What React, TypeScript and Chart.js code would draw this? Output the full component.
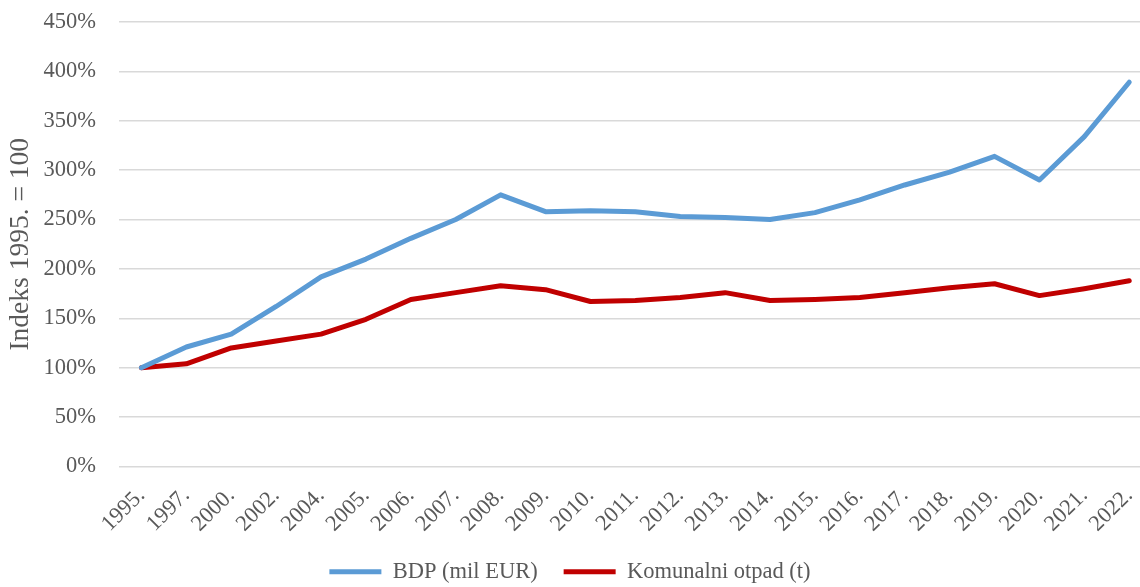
import React, { useEffect, useRef } from "react";
import { Chart, registerables } from "chart.js";

Chart.register(...registerables);

const years = ["1995.", "1997.", "2000.", "2002.", "2004.", "2005.", "2006.", "2007.", "2008.", "2009.", "2010.", "2011.", "2012.", "2013.", "2014.", "2015.", "2016.", "2017.", "2018.", "2019.", "2020.", "2021.", "2022."];
const bdp = [100, 121, 134, 162, 192, 210, 231, 250, 275, 258, 259, 258, 253, 252, 250, 257, 270, 285, 298, 314, 290, 334, 389];
const otpad = [100, 104, 120, 127, 134, 149, 169, 176, 183, 179, 167, 168, 171, 176, 168, 169, 171, 176, 181, 185, 173, 180, 188];
const seriesNames = ["BDP (mil EUR)", "Komunalni otpad (t)"];
const yTitle = "Indeks 1995. = 100";

const FONT = "'Liberation Serif', 'Times New Roman', serif";
const GREY = "#595959";
const FS = 22.5;

export default function App() {
  const ref = useRef<HTMLCanvasElement | null>(null);
  useEffect(() => {
    if (!ref.current) return;
    const toXY = (arr: number[]) => arr.map((v, i) => ({ x: i, y: v }));
    const chart = new Chart(ref.current, {
      type: "line",
      data: {
        datasets: [
          {
            label: seriesNames[0],
            data: toXY(bdp),
            borderColor: "#5B9BD5",
            backgroundColor: "#5B9BD5",
            borderWidth: 5,
            pointRadius: 0,
            tension: 0,
            borderCapStyle: "round",
            borderJoinStyle: "round",
            pointStyle: "line",
          },
          {
            label: seriesNames[1],
            data: toXY(otpad),
            borderColor: "#C00000",
            backgroundColor: "#C00000",
            borderWidth: 5,
            pointRadius: 0,
            tension: 0,
            borderCapStyle: "round",
            borderJoinStyle: "round",
            pointStyle: "line",
          },
        ],
      },
      options: {
        animation: false,
        responsive: true,
        maintainAspectRatio: false,
        layout: { padding: { top: 22, left: 0, right: 0, bottom: -6 } },
        plugins: {
          tooltip: { enabled: false },
          legend: {
            position: "bottom",
            labels: {
              usePointStyle: true,
              pointStyleWidth: 52,
              padding: 26,
              color: GREY,
              font: { family: FONT, size: FS },
            },
          },
        },
        scales: {
          x: {
            type: "linear",
            min: -0.5,
            max: 22.24,
            grid: { display: false, drawTicks: false },
            border: { display: false },
            afterBuildTicks: (axis: any) => {
              axis.ticks = years.map((_, i) => ({ value: i }));
            },
            afterFit: (axis: any) => {
              axis.height = 68;
              axis.paddingLeft = 0;
              axis.paddingRight = 0;
            },
            ticks: {
              autoSkip: false,
              maxRotation: 45,
              minRotation: 45,
              padding: 16,
              color: GREY,
              font: { family: FONT, size: FS },
              callback: (v: any) => years[Number(v)] ?? "",
            },
          },
          y: {
            min: 0,
            max: 450,
            grid: { color: "#D9D9D9", lineWidth: 1.5, drawTicks: false },
            border: { display: false },
            afterFit: (axis: any) => {
              axis.width = 119;
              axis.paddingTop = 0;
              axis.paddingBottom = 0;
            },
            ticks: {
              stepSize: 50,
              padding: 23,
              color: GREY,
              font: { family: FONT, size: FS },
              callback: (v: any) => v + "%",
            },
            title: {
              display: true,
              text: yTitle,
              color: GREY,
              font: { family: FONT, size: 27.5 },
              padding: { top: 4, bottom: 0 },
            },
          },
        },
      },
    } as any);
    return () => chart.destroy();
  }, []);
  return (
    <div style={{ position: "absolute", left: 0, top: 0, width: 1140, height: 587 }}>
      <canvas ref={ref} />
    </div>
  );
}
